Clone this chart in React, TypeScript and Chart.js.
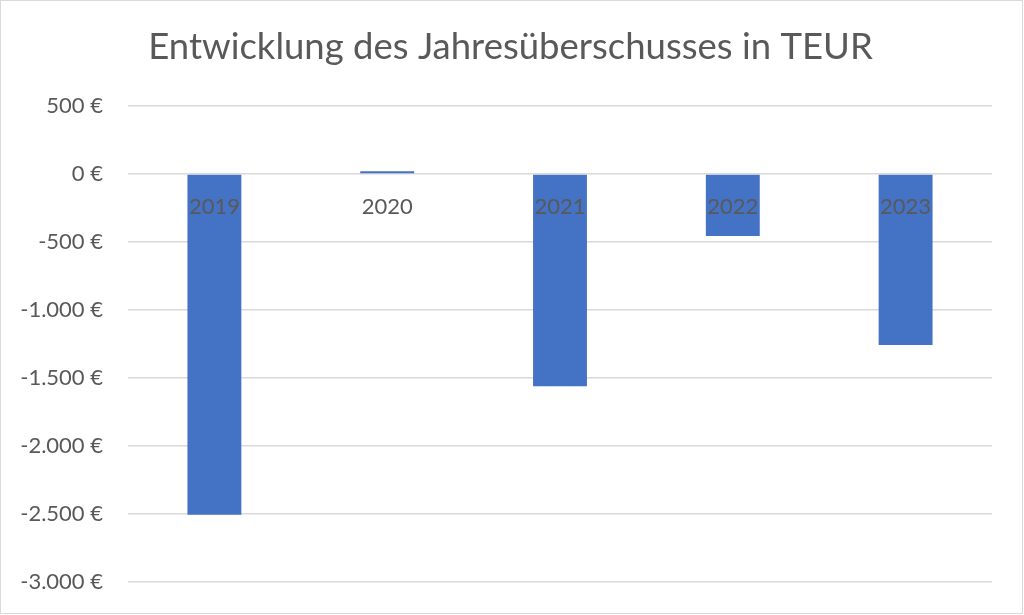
import React, { useEffect, useRef } from "react";
import { Chart, registerables } from "chart.js";

Chart.register(...registerables);

const titleText = "Entwicklung des Jahresüberschusses in TEUR";
const categories = ["2019", "2020", "2021", "2022", "2023"];
const surplusValues = [-2505, 20, -1560, -455, -1257];
const yMin = -3000;
const yMax = 500;
const yStep = 500;

const FONT = "Lato, 'Open Sans', sans-serif";
const TEXT = "#595959";

function formatEuro(v: number): string {
  const s = Math.abs(v).toString().replace(/\B(?=(\d{3})+(?!\d))/g, ".");
  return (v < 0 ? "-" : "") + s + " €";
}

const unclipYLabels = {
  id: "unclipYLabels",
  afterLayout(chart: any) {
    const y = chart.scales.y;
    if (y) y.left = 0;
  },
};

export default function App() {
  const ref = useRef<HTMLCanvasElement | null>(null);

  useEffect(() => {
    document.body.style.margin = "0";
    const ctx = ref.current!.getContext("2d")!;
    const chart = new Chart(ctx, {
      type: "bar",
      data: {
        labels: categories,
        datasets: [
          {
            data: surplusValues,
            backgroundColor: "#4472C4",
            borderWidth: 0,
            barPercentage: 0.312,
            categoryPercentage: 1,
          },
        ],
      },
      plugins: [unclipYLabels],
      options: {
        responsive: false,
        animation: false,
        layout: { padding: { left: 29, right: 32, top: 0, bottom: 33 } },
        plugins: {
          legend: { display: false },
          tooltip: { enabled: false },
          title: {
            display: true,
            text: titleText,
            color: TEXT,
            font: { family: FONT, size: 36.5, weight: "normal" },
            padding: { top: 25, bottom: 37.2 },
          },
        },
        scales: {
          x: {
            position: { y: 0 } as any,
            grid: { display: false, drawTicks: false },
            border: { display: false },
            ticks: {
              z: 1,
              color: TEXT,
              font: { family: FONT, size: 22 },
              padding: 20,
              maxRotation: 0,
            },
            afterFit: (scale: any) => {
              scale.paddingLeft = 0;
              scale.paddingRight = 0;
            },
          },
          y: {
            min: yMin,
            max: yMax,
            grid: { color: "#d9d9d9", lineWidth: 1.5, drawTicks: false },
            border: { display: false },
            ticks: {
              stepSize: yStep,
              color: TEXT,
              font: { family: FONT, size: 22 },
              padding: 25,
              callback: (v: any) => formatEuro(Number(v)),
            },
            afterFit: (scale: any) => {
              scale.width = 99;
              scale.paddingTop = 0;
              scale.paddingBottom = 0;
            },
          },
        },
      },
    });
    return () => chart.destroy();
  }, []);

  return (
    <div style={{ position: "fixed", left: 0, top: 0, width: 1024, height: 615, background: "#fff" }}>
      <canvas ref={ref} width={1024} height={615} style={{ display: "block" }} />
      <div
        style={{
          position: "absolute",
          left: 0,
          top: 0,
          width: 1023,
          height: 614,
          boxSizing: "border-box",
          border: "1px solid #d9d9d9",
          pointerEvents: "none",
        }}
      />
    </div>
  );
}
